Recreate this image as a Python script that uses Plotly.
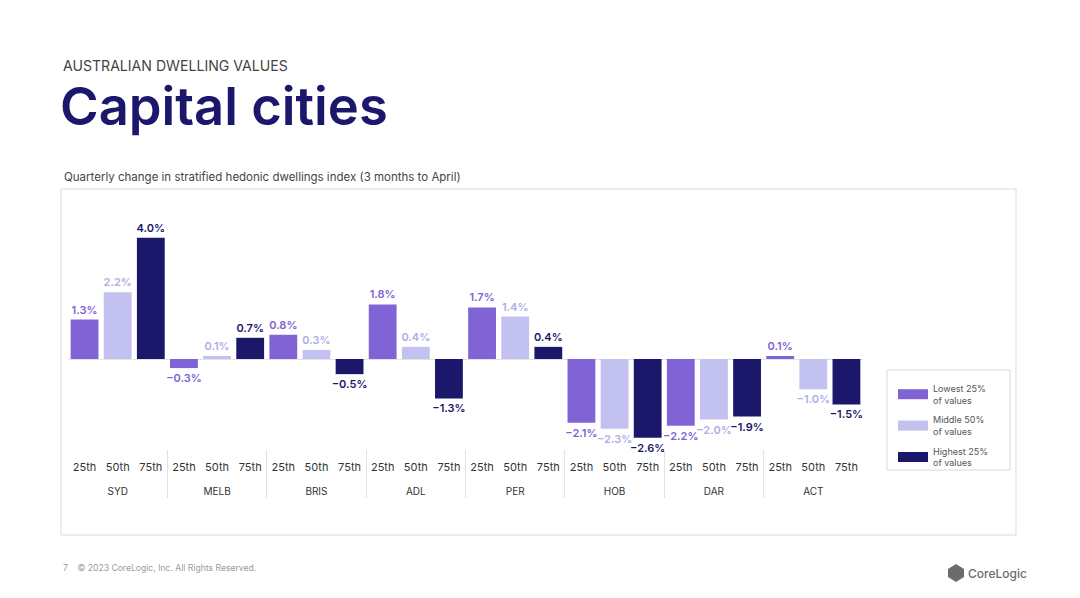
import plotly.graph_objects as go

cities = ["SYD", "MELB", "BRIS", "ADL", "PER", "HOB", "DAR", "ACT"]
percentiles = ["25th", "50th", "75th"]
series_names = ["Lowest 25%<br>of values", "Middle 50%<br>of values", "Highest 25%<br>of values"]
lowest = [1.3, -0.3, 0.8, 1.8, 1.7, -2.1, -2.2, 0.1]
middle = [2.2, 0.1, 0.3, 0.4, 1.4, -2.3, -2.0, -1.0]
highest = [4.0, 0.7, -0.5, -1.3, 0.4, -2.6, -1.9, -1.5]

bar_colors = ["#8064D6", "#C3C1EF", "#1B186B"]
text_colors = ["#7F63D4", "#B1ACEA", "#1B186B"]

W, H = 1080, 598
OFF = 8  # page body margin in the browser
# screen-pixel geometry of the reference
L, R = 68, 863          # plot left/right
T, PB = 200, 459        # plot top, bar-area bottom
RB = 508                # bottom of the whole plotting region (incl. label axes)

def px(x):
    return (x - L) / (R - L)

def py(y):
    return (RB - y) / (RB - T)

series = [lowest, middle, highest]
n = len(cities) * 3
xs, ys, cols, tcols, texts = [], [], [], [], []
for ci, c in enumerate(cities):
    for si in range(3):
        v = series[si][ci]
        xs.append(ci * 3 + si)
        ys.append(v)
        cols.append(bar_colors[si])
        tcols.append(text_colors[si])
        texts.append(f"{v:.1f}%".replace("-", "\u2212"))

fig = go.Figure()
fig.add_trace(go.Bar(
    x=xs, y=ys, marker=dict(color=cols, line=dict(width=0)),
    text=texts, textposition="outside", cliponaxis=False, constraintext="none",
    textfont=dict(color=tcols, size=11, family="Inter", weight=600),
    showlegend=False, hoverinfo="skip",
))
# legend entries drawn as thick line swatches (wide rectangles)
for si in range(3):
    fig.add_trace(go.Scatter(
        x=[None], y=[None], mode="lines", name=series_names[si], legendgroup=f"g{si}",
        line=dict(color=bar_colors[si], width=12), showlegend=True, hoverinfo="skip",
    ))

# y scale: zero at screen 359, 30.3 px per %
zero_px, ppu = 359, 30.3
y_top = (zero_px - T) / ppu
y_bot = -(PB - zero_px) / ppu

xrange = [-0.5, n - 0.5]
fig.update_layout(
    width=W, height=H,
    margin=dict(l=L - OFF, r=W - R + OFF, t=T - OFF, b=H - RB + OFF),
    paper_bgcolor="white", plot_bgcolor="white",
    barmode="overlay", bargap=0.16,
    font=dict(family="Inter", color="#333"),
    showlegend=True,
    legend=dict(
        x=px(893), y=py(376), xanchor="left", yanchor="top",
        font=dict(size=9, color="#555", family="Inter"),
        bgcolor="rgba(0,0,0,0)", tracegroupgap=5, itemwidth=30,
    ),
    xaxis=dict(
        range=xrange, tickmode="array", tickvals=list(range(n)),
        ticktext=percentiles * len(cities),
        showgrid=False, showline=False, zeroline=False, ticks="",
        tickfont=dict(size=11, color="#333", family="Inter"),
    ),
    xaxis2=dict(
        overlaying="x", anchor="free", position=py(484), range=xrange,
        tickmode="array", tickvals=[ci * 3 + 1 for ci in range(len(cities))],
        ticktext=cities, showgrid=False, showline=False, zeroline=False, ticks="",
        tickfont=dict(size=10, color="#333", family="Inter"),
    ),
    xaxis3=dict(
        overlaying="x", anchor="free", position=py(498), range=xrange,
        tickmode="array", tickvals=[ci * 3 - 0.5 for ci in range(len(cities) + 1)],
        showticklabels=False, showgrid=False, showline=False, zeroline=False,
        ticks="inside", ticklen=48, tickwidth=1, tickcolor="#E3E3E3",
    ),
    yaxis=dict(
        domain=[py(PB), 1],
        range=[y_bot, y_top], showgrid=False, showticklabels=False, ticks="",
        zeroline=True, zerolinecolor="#E3E3E3", zerolinewidth=1, showline=False,
    ),
)
# hidden traces to activate the label axes
fig.add_trace(go.Scatter(x=[None], y=[None], xaxis="x2", showlegend=False, hoverinfo="skip"))
fig.add_trace(go.Scatter(x=[None], y=[None], xaxis="x3", showlegend=False, hoverinfo="skip"))

# outer chart frame and legend frame
fig.add_shape(type="rect", xref="paper", yref="paper",
              x0=px(61), x1=px(1016), y0=py(535), y1=py(189),
              line=dict(color="#DADADA", width=1), layer="below")
fig.add_shape(type="rect", xref="paper", yref="paper",
              x0=px(887), x1=px(1010), y0=py(470), y1=py(370),
              line=dict(color="#DADADA", width=1), layer="below")

ann = [
    dict(text="AUSTRALIAN DWELLING VALUES", x=px(61), y=py(66), size=14.1, color="#444", weight=400),
    dict(text="Capital cities", x=px(58), y=py(106), size=52.5, color="#1B186B", weight=600),
    dict(text="Quarterly change in stratified hedonic dwellings index (3 months to April)", x=px(62), y=py(177), size=11.5, color="#444", weight=400),
    dict(text="7    \u00a9 2023 CoreLogic, Inc. All Rights Reserved.", x=px(61), y=py(568), size=8.6, color="#9A9A9A", weight=400),
    dict(text="CoreLogic", x=px(966), y=py(573), size=12, color="#6B6B6B", weight=500),
]
for a in ann:
    fig.add_annotation(text=a["text"], x=a["x"], y=a["y"], xref="paper", yref="paper",
                       xanchor="left", yanchor="middle", showarrow=False,
                       font=dict(size=a["size"], color=a["color"], family="Inter", weight=a["weight"]))

# small logo mark
lx, ly = 956, 573
path = (f"M {px(lx-8)} {py(ly-4)} L {px(lx)} {py(ly-9)} L {px(lx+8)} {py(ly-4)} "
        f"L {px(lx+8)} {py(ly+4)} L {px(lx)} {py(ly+9)} L {px(lx-8)} {py(ly+4)} Z")
fig.add_shape(type="path", xref="paper", yref="paper", path=path,
              fillcolor="#6B6B6B", line=dict(width=0))

fig.write_html("out.html")
